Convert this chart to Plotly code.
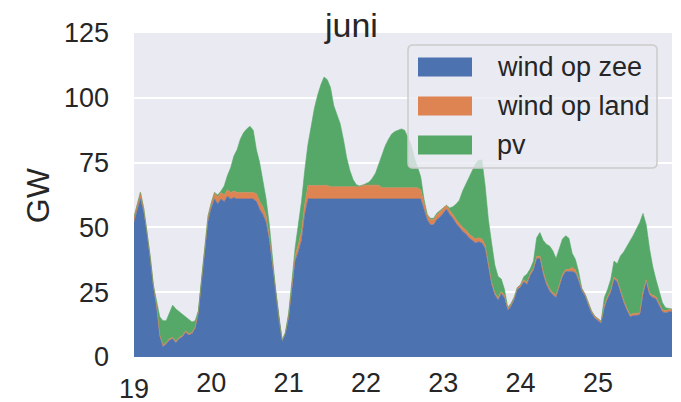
import pandas as pd
import plotly.graph_objects as go

# hourly values, 19 - 25 juni (GW), one row per day
wind_op_zee = [
    52, 57, 61, 56, 48, 38, 27, 19.5, 8, 4, 5, 6.5, 7, 5.5, 7, 7.7, 9.5, 8.5, 9, 11, 17, 29.5, 42.5, 52.5,
    57.5, 61, 59, 61, 60, 62, 61, 61.5, 61, 61, 61, 61, 61, 61, 60, 57, 55, 52, 45, 35, 24, 14, 6, 9,
    15, 26, 37, 40.5, 45, 55, 61, 61, 61, 61, 61, 61, 61, 61, 61, 61, 61, 61, 61, 61, 61, 61, 61, 61,
    61, 61, 61, 61, 61, 61, 61, 61, 61, 61, 61, 61, 61, 61, 61, 61, 61, 61, 57, 53, 51, 51, 53, 54,
    55.5, 57, 55, 53.5, 51.5, 50, 48.5, 47.5, 46, 45, 44, 44.5, 44, 42, 35, 28, 24, 22, 24.5, 23, 18, 19.5, 22, 26,
    27, 29, 28, 31.5, 33.5, 38, 38, 32, 28, 25.5, 24, 23, 27, 31, 33, 33, 33, 32.5, 29.5, 25.5, 23.5, 20, 17, 15,
    14, 13, 19, 22.5, 25, 30, 29, 24.5, 21, 18, 15.5, 16, 16, 16.2, 24, 29, 24, 23, 22.5, 20, 17.5, 17, 17.5, 17.5,
]
wind_op_land = [
    2, 2, 2.5, 1.5, 1, 1, 0.8, 0.5, 0.5, 0.5, 0.5, 0.5, 0.5, 0.5, 0.5, 0.5, 0.5, 0.5, 0.5, 0.5, 0.5, 1, 1.5, 2,
    2, 2.5, 2.5, 2.5, 2.5, 2.5, 2.5, 2.5, 2.5, 2.5, 2.5, 2.5, 2.5, 2.5, 3, 3, 3, 2.5, 1.5, 1, 1, 0.5, 0.5, 0.5,
    1, 1.5, 2, 3, 3.5, 4, 5.2, 5.2, 5.2, 5.2, 5.2, 5.2, 5.2, 4.7, 4.7, 4.7, 4.7, 4.7, 4.7, 4.7, 4.7, 4.7, 4.7, 5.3,
    5.3, 5.3, 5.3, 5.3, 5.3, 4.3, 4.3, 4.3, 4.3, 4.3, 4.3, 4.3, 4.3, 4.3, 4.3, 4.3, 4.3, 3.5, 2.5, 2, 2, 2, 2, 2,
    2, 1.5, 1.5, 1.5, 1.5, 1.5, 1.5, 1.5, 1.5, 1.5, 1.5, 1.5, 1.5, 1.2, 1, 0.8, 0.8, 0.8, 0.8, 0.8, 0.8, 0.8, 0.8, 0.8,
    0.8, 0.8, 0.8, 0.8, 0.8, 0.8, 1, 1, 1, 0.8, 0.8, 0.8, 0.8, 0.8, 0.8, 0.8, 1.5, 1.2, 0.8, 0.8, 0.8, 0.8, 0.8, 0.8,
    0.8, 0.8, 0.8, 0.8, 0.8, 0.8, 0.8, 0.8, 0.8, 0.8, 0.8, 0.8, 0.8, 0.8, 1.2, 0.8, 0.8, 0.8, 0.8, 0.8, 0.8, 0.8, 0.8, 0.8,
]
pv = [
    0, 0, 0, 0, 0, 0, 0, 1, 7, 9.5, 8.5, 10, 12.5, 12.5, 10, 8.5, 5.5, 5.5, 4, 2.5, 0.5, 0, 0, 0,
    0, 0, 1, 0.5, 3.5, 5.5, 9.5, 13.5, 16.5, 20.5, 23, 24.5, 25.5, 24, 17, 15, 10, 6.5, 4.5, 1, 0.3, 0, 0, 0,
    1, 1.5, 3, 7.5, 11.5, 13, 15.8, 22.8, 29.8, 34.8, 38.8, 41.8, 40.8, 38.3, 31.3, 27.8, 24.3, 18.3, 11.3, 6.3, 2.8, 0.8, 0.3, 0,
    0.7, 1.2, 2.7, 4.7, 8.2, 12.7, 16.2, 18.7, 20.7, 21.7, 22.2, 22.7, 22.2, 19.7, 16.7, 11.7, 8.2, 5, 1.5, 0, 0.5, 0.5, 0.5, 0.5,
    0, 0, 1, 3, 6, 9, 14, 17.5, 22, 25.5, 29, 30, 30.5, 22.8, 17, 15.2, 10.7, 8.3, 4.8, 2.3, 0.4, 0.3, 0.2, 0,
    0.2, 1.2, 3.2, 1.7, 2.7, 7.2, 9, 12, 14.5, 16.5, 16.2, 14.2, 14.2, 13.7, 13, 12, 5.5, 4, 2.7, 0.2, 0, 0, 0, 0,
    0, 0, 3.2, 2.7, 4.2, 6.2, 6.2, 13.7, 18.7, 23.7, 28.7, 30.2, 32.7, 34.9, 30.2, 21.2, 17.2, 11.2, 6.7, 4.2, 2.7, 1.2, 0.3, 0.2,
]
series_names = ["wind op zee", "wind op land", "pv"]
colors = ["#4C72B0", "#DD8452", "#55A868"]
day_labels = ["19", "20", "21", "22", "23", "24", "25"]

times = pd.date_range("2019-06-19", periods=len(wind_op_zee), freq="h")
day_ticks = pd.date_range("2019-06-19", periods=len(day_labels), freq="D")

text_color = "#262626"
font_family = "Liberation Sans, Arial, sans-serif"

fig = go.Figure()
for name, values, color in zip(series_names, [wind_op_zee, wind_op_land, pv], colors):
    fig.add_trace(go.Scatter(
        x=times, y=values, name=name,
        mode="lines", stackgroup="one",
        line=dict(width=0.6, color=color),
        fillcolor=color,
        showlegend=False,
    ))

# page body adds an 8px offset, margins compensate for it
fig.update_layout(
    width=681, height=402,
    margin=dict(l=126, r=17, t=25, b=53),
    paper_bgcolor="white",
    plot_bgcolor="#EAEAF2",
    font=dict(family=font_family, size=27, color=text_color),
)
fig.update_xaxes(
    range=[times[0], times[-1]],
    tickvals=day_ticks[1:], ticktext=day_labels[1:],
    showgrid=False, zeroline=False, showline=False,
    ticks="", ticklabelstandoff=7, automargin=False,
)
fig.update_yaxes(
    range=[0, 125], tickvals=[0, 25, 50, 75, 100, 125],
    showgrid=True, gridcolor="white", gridwidth=1.6,
    zeroline=False, showline=False,
    ticks="", ticklabelstandoff=24, automargin=False,
)

# first day label sits a bit lower than the others
fig.add_annotation(x=day_ticks[0], y=-0.1, xref="x", yref="paper",
                   text=day_labels[0], showarrow=False,
                   xanchor="center", yanchor="middle",
                   font=dict(size=27, color=text_color))
# title and y label
fig.add_annotation(x=0.403, y=1.025, xref="paper", yref="paper", text="juni",
                   showarrow=False, xanchor="center", yanchor="middle",
                   font=dict(size=34, color=text_color))
fig.add_annotation(x=-0.178, y=0.5, xref="paper", yref="paper", text="GW",
                   textangle=-90, showarrow=False, xanchor="center", yanchor="middle",
                   font=dict(size=32, color=text_color))

# legend box drawn by hand (matplotlib style), positions in reference pixels
def px_x(x):
    return (x - 134) / 538

def px_y(y):
    return (357 - y) / 324

x0, x1, y0, y1, r = 408, 657, 45, 168, 5
path = (f"M {px_x(x0 + r)},{px_y(y0)} L {px_x(x1 - r)},{px_y(y0)} "
        f"Q {px_x(x1)},{px_y(y0)} {px_x(x1)},{px_y(y0 + r)} L {px_x(x1)},{px_y(y1 - r)} "
        f"Q {px_x(x1)},{px_y(y1)} {px_x(x1 - r)},{px_y(y1)} L {px_x(x0 + r)},{px_y(y1)} "
        f"Q {px_x(x0)},{px_y(y1)} {px_x(x0)},{px_y(y1 - r)} L {px_x(x0)},{px_y(y0 + r)} "
        f"Q {px_x(x0)},{px_y(y0)} {px_x(x0 + r)},{px_y(y0)} Z")
fig.add_shape(type="path", path=path, xref="paper", yref="paper",
              fillcolor="rgba(234,234,242,0.8)", line=dict(color="#CCCCCC", width=1.5))

row_centers = [67, 106, 145]
for name, color, yc in zip(series_names, colors, row_centers):
    fig.add_shape(type="rect", xref="paper", yref="paper",
                  x0=px_x(418), x1=px_x(472), y0=px_y(yc + 9.5), y1=px_y(yc - 9.5),
                  fillcolor=color, line=dict(width=0))
    fig.add_annotation(x=px_x(495), y=px_y(yc), xref="paper", yref="paper",
                       text=name, showarrow=False, xanchor="left", yanchor="middle",
                       font=dict(size=27, color=text_color))

fig.write_html("out.html")
